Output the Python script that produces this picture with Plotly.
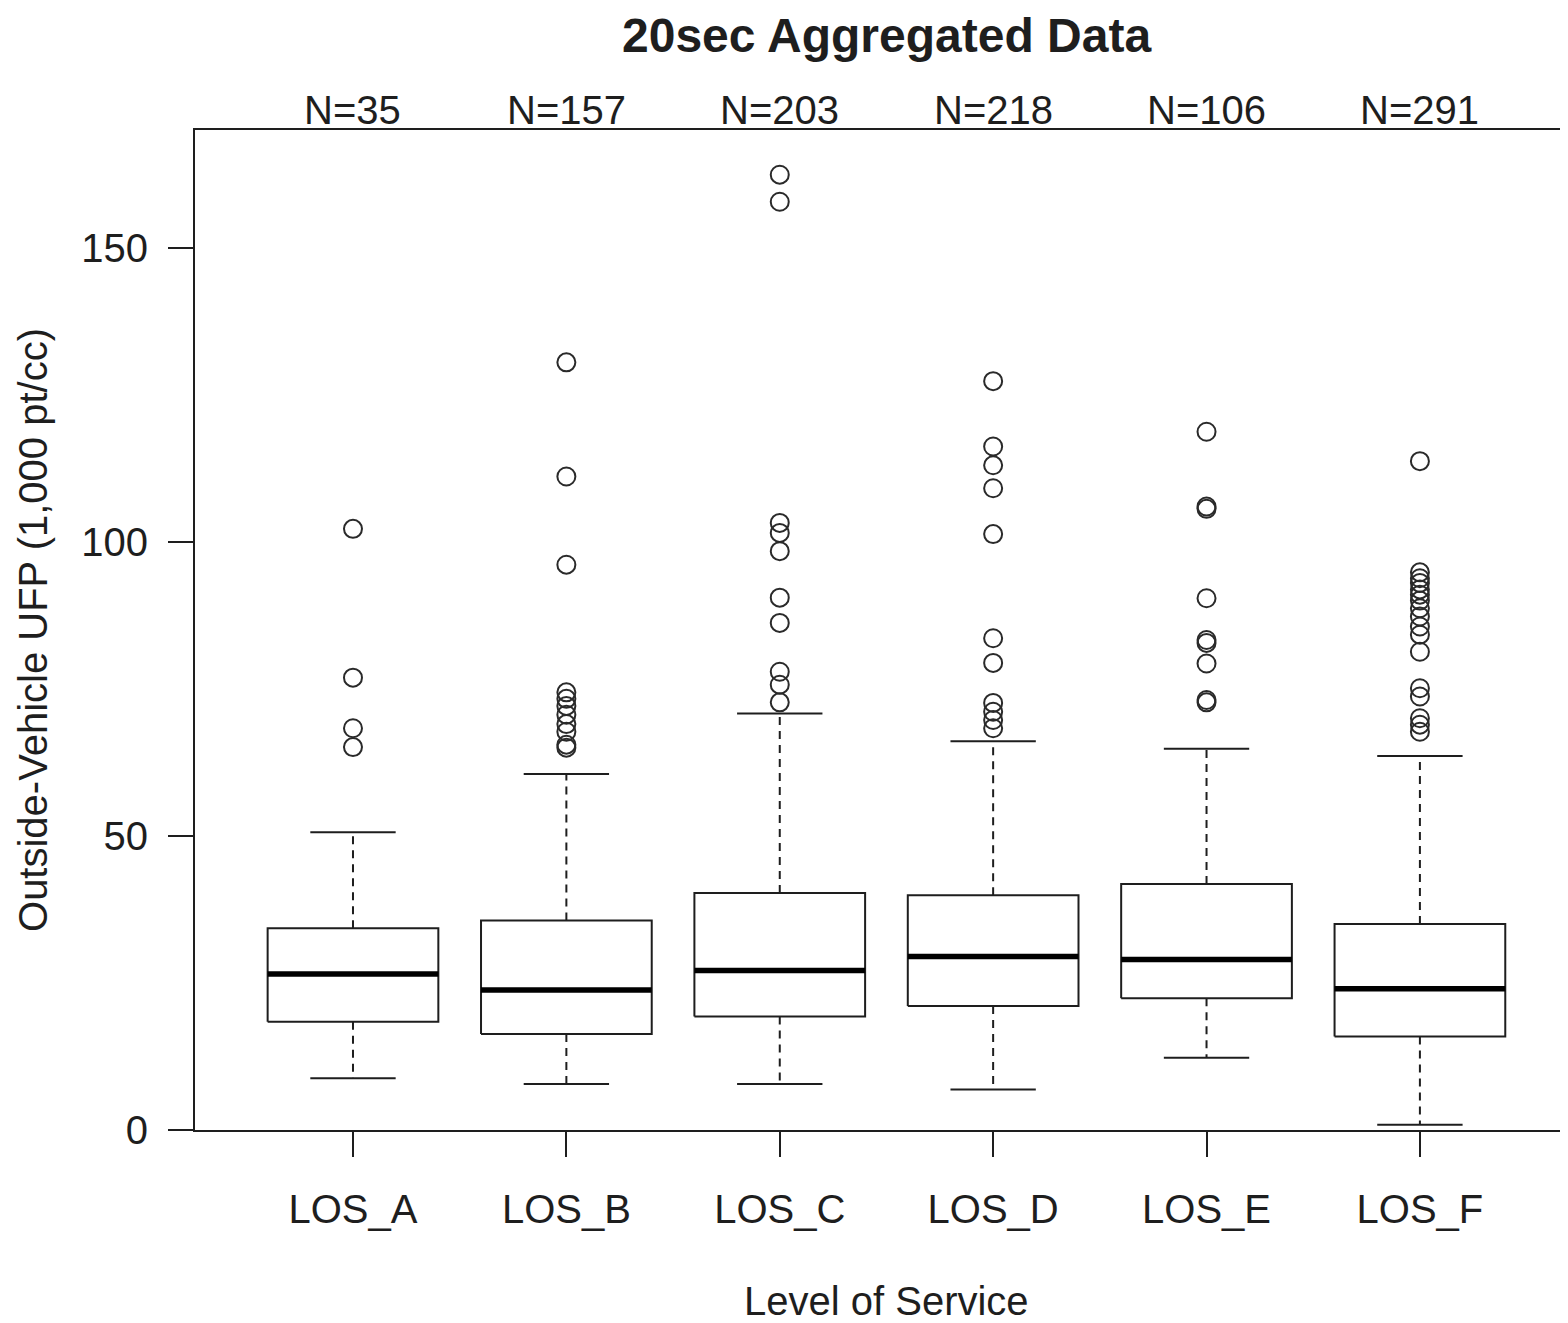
import plotly.graph_objects as go

# ---------------- data ----------------
categories = ["LOS_A", "LOS_B", "LOS_C", "LOS_D", "LOS_E", "LOS_F"]
n_counts = [35, 157, 203, 218, 106, 291]
q1 = [18.4, 16.3, 19.3, 21.1, 22.4, 15.9]
median = [26.5, 23.8, 27.1, 29.5, 29.0, 24.0]
q3 = [34.3, 35.6, 40.3, 39.9, 41.8, 35.0]
whisker_low = [8.8, 7.8, 7.8, 6.9, 12.3, 0.9]
whisker_high = [50.6, 60.5, 70.8, 66.1, 64.8, 63.6]
outliers = [
    [102.2, 76.9, 68.3, 65.1],
    [130.5, 111.1, 96.1, 74.4, 73.3, 72.1, 70.6, 69.0, 67.7, 65.5, 65.0],
    [162.4, 157.8, 103.2, 101.5, 98.4, 90.5, 86.2, 77.9, 75.7, 72.7],
    [127.3, 116.2, 113.0, 109.1, 101.3, 83.6, 79.4, 72.6, 71.1, 69.7, 68.3],
    [118.7, 106.0, 105.6, 90.4, 83.3, 82.8, 79.3, 73.1, 72.7],
    [113.7, 94.8, 93.8, 93.0, 91.9, 91.0, 90.0, 88.7, 87.3, 85.6, 84.2,
     81.3, 75.1, 73.7, 70.0, 68.9, 67.7],
]

FONT = "Liberation Sans, Arial, Helvetica, sans-serif"
INK = "#1e1e1e"
BOX_HALF = 0.4
STAPLE_HALF = 0.2

fig = go.Figure()

for i, cat in enumerate(categories):
    xc = i + 1
    # whiskers (dashed)
    fig.add_trace(go.Scatter(
        x=[xc, xc, None, xc, xc],
        y=[q3[i], whisker_high[i], None, q1[i], whisker_low[i]],
        mode="lines", line=dict(color=INK, width=2, dash="8px,6px"),
        hoverinfo="skip", showlegend=False))
    # staples
    fig.add_trace(go.Scatter(
        x=[xc - STAPLE_HALF, xc + STAPLE_HALF, None, xc - STAPLE_HALF, xc + STAPLE_HALF],
        y=[whisker_high[i], whisker_high[i], None, whisker_low[i], whisker_low[i]],
        mode="lines", line=dict(color=INK, width=2),
        hoverinfo="skip", showlegend=False))
    # box
    fig.add_trace(go.Scatter(
        x=[xc - BOX_HALF, xc + BOX_HALF, xc + BOX_HALF, xc - BOX_HALF, xc - BOX_HALF],
        y=[q1[i], q1[i], q3[i], q3[i], q1[i]],
        mode="lines", fill="toself", fillcolor="white",
        line=dict(color=INK, width=2),
        hoverinfo="skip", showlegend=False))
    # median
    fig.add_trace(go.Scatter(
        x=[xc - BOX_HALF, xc + BOX_HALF], y=[median[i], median[i]],
        mode="lines", line=dict(color="black", width=5.5),
        hoverinfo="skip", showlegend=False))
    # outliers
    fig.add_trace(go.Scatter(
        x=[xc] * len(outliers[i]), y=outliers[i], mode="markers",
        marker=dict(symbol="circle-open", size=18, color="#2a2a2a",
                    line=dict(width=2, color="#2a2a2a")),
        hoverinfo="skip", showlegend=False))

annotations = []
for i, n in enumerate(n_counts):
    annotations.append(dict(
        x=i + 1, xref="x", y=1.02, yref="paper", text=f"N={n}",
        showarrow=False, xanchor="center", yanchor="middle",
        font=dict(family=FONT, size=40, color=INK)))

annotations.append(dict(
    x=3.5, xref="x", y=1.094, yref="paper", text="<b>20sec Aggregated Data</b>",
    showarrow=False, xanchor="center", yanchor="middle",
    font=dict(family=FONT, size=48, color=INK)))
annotations.append(dict(
    x=3.5, xref="x", y=-0.171, yref="paper", text="Level of Service",
    showarrow=False, xanchor="center", yanchor="middle",
    font=dict(family=FONT, size=40, color=INK)))
annotations.append(dict(
    x=-0.118, xref="paper", y=0.5, yref="paper",
    text="Outside-Vehicle UFP (1,000 pt/cc)", textangle=-90,
    showarrow=False, xanchor="center", yanchor="middle",
    font=dict(family=FONT, size=40, color=INK)))

# the page places the figure 8 px from the top-left corner
fig.update_layout(
    width=1560, height=1315,
    margin=dict(l=187, r=0, t=122, b=193),
    paper_bgcolor="white", plot_bgcolor="white",
    annotations=annotations,
    xaxis=dict(
        range=[0.2596, 6.694], tickmode="array",
        tickvals=list(range(1, len(categories) + 1)), ticktext=categories,
        showgrid=False, zeroline=False,
        showline=True, mirror=True, linecolor=INK, linewidth=2,
        ticks="outside", ticklen=25, tickwidth=2, tickcolor=INK,
        ticklabelstandoff=18,
        tickfont=dict(family=FONT, size=40, color=INK)),
    yaxis=dict(
        range=[0, 170], tickmode="array", tickvals=[0, 50, 100, 150],
        showgrid=False, zeroline=False,
        showline=True, mirror=False, linecolor=INK, linewidth=2,
        ticks="outside", ticklen=25, tickwidth=2, tickcolor=INK,
        ticklabelstandoff=12,
        tickfont=dict(family=FONT, size=40, color=INK)),
)

fig.write_html("out.html")
